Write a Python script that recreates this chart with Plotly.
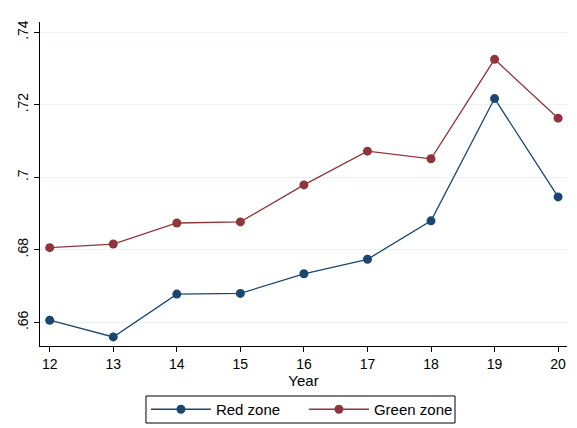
import plotly.graph_objects as go

years = [12, 13, 14, 15, 16, 17, 18, 19, 20]
red_zone = [0.6606, 0.6560, 0.6678, 0.6680, 0.6734, 0.6774, 0.6880, 0.7217, 0.6946]
green_zone = [0.6806, 0.6816, 0.6874, 0.6877, 0.6979, 0.7072, 0.7051, 0.7325, 0.7163]
y_ticks = [0.66, 0.68, 0.70, 0.72, 0.74]
y_tick_labels = [".66", ".68", ".7", ".72", ".74"]

blue = "#1a476f"
maroon = "#90353b"

fig = go.Figure()
fig.add_trace(go.Scatter(x=years, y=red_zone, mode="lines+markers", name="Red zone",
                         line=dict(color=blue, width=1.3),
                         marker=dict(color=blue, size=9)))
fig.add_trace(go.Scatter(x=years, y=green_zone, mode="lines+markers", name="Green zone",
                         line=dict(color=maroon, width=1.3),
                         marker=dict(color=maroon, size=9)))

font = dict(family="Liberation Sans, Arial, sans-serif", size=14, color="black")
fig.update_layout(
    width=577, height=428,
    margin=dict(l=40, r=10, t=22, b=82, autoexpand=False),
    paper_bgcolor="white", plot_bgcolor="white",
    font=font,
    showlegend=True,
    legend=dict(orientation="h", x=0.201, xanchor="left", y=-0.196, yanchor="middle",
                borderwidth=0, bgcolor="rgba(0,0,0,0)", font=dict(size=15),
                itemwidth=60, entrywidth=83, entrywidthmode="pixels",
                traceorder="normal"),
    shapes=[dict(type="rect", xref="paper", yref="paper",
                 x0=0.2011, x1=0.7875, y0=-0.2377, y1=-0.1543,
                 line=dict(color="black", width=1), fillcolor="rgba(0,0,0,0)",
                 layer="above")],
    xaxis=dict(range=[11.847, 20.14], tickvals=years, ticks="outside", ticklen=5,
               tickcolor="black", showline=True, linecolor="black", linewidth=1,
               showgrid=False, zeroline=False,
               title=dict(text="Year", standoff=1, font=dict(size=15)),
               tickfont=dict(size=14), automargin=False),
    yaxis=dict(range=[0.6535, 0.7428], tickvals=y_ticks, ticktext=y_tick_labels,
               tickangle=-90, ticks="outside", ticklen=5, tickcolor="black",
               showline=True, linecolor="black", linewidth=1,
               showgrid=True, gridcolor="#eaf2f3", gridwidth=1, zeroline=False,
               tickfont=dict(size=14), automargin=False),
)

fig.write_html("out.html", config={"displayModeBar": False},
               post_script="document.body.style.margin='0';document.body.style.overflow='hidden';")
